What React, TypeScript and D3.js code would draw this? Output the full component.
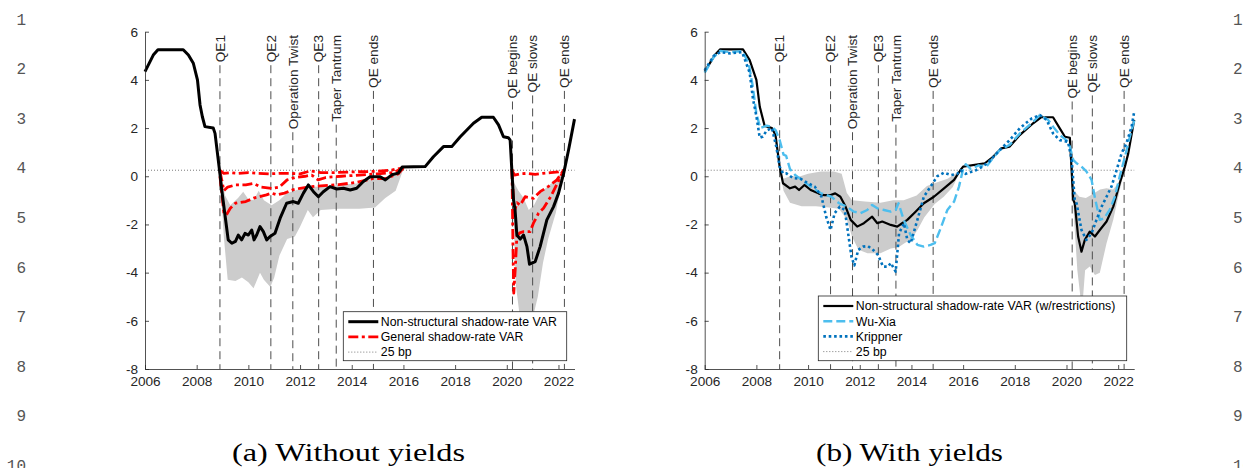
import React, { useEffect, useRef } from 'react';
import * as d3 from 'd3';

type Pt = [number, number];

const xTicks = [2006, 2008, 2010, 2012, 2014, 2016, 2018, 2020, 2022];
const yTicks = [-8, -6, -4, -2, 0, 2, 4, 6];
const eventLabels = ['QE1', 'QE2', 'Operation Twist', 'QE3', 'Taper Tantrum', 'QE ends', 'QE begins', 'QE slows', 'QE ends'];
const eventYears = [2008.9, 2010.87, 2011.72, 2012.72, 2013.4, 2014.84, 2020.22, 2021.0, 2022.23];
const floorRate = 0.25;
const lineNumbers = ['1', '2', '3', '4', '5', '6', '7', '8', '9', '10'];
const captions = ['(a) Without yields', '(b) With yields'];

// (a) non-structural shadow-rate VAR
const nsVarA: Pt[] = [
  [2006.0, 4.34], [2006.32, 5.03], [2006.5, 5.25], [2007.48, 5.25], [2007.68, 5.03], [2007.87, 4.69],
  [2008.03, 4.0], [2008.13, 2.96], [2008.22, 2.47], [2008.32, 2.06], [2008.64, 2.0], [2008.71, 1.78],
  [2008.9, 0.1], [2008.97, -0.57], [2009.22, -2.64], [2009.36, -2.78], [2009.5, -2.7], [2009.61, -2.44],
  [2009.74, -2.64], [2009.87, -2.37], [2010.0, -2.44], [2010.13, -2.23], [2010.22, -2.64], [2010.32, -2.44],
  [2010.45, -2.09], [2010.58, -2.3], [2010.71, -2.64], [2010.84, -2.5], [2011.03, -2.37], [2011.23, -1.74],
  [2011.48, -1.12], [2011.74, -1.05], [2011.93, -1.12], [2012.13, -0.7], [2012.32, -0.36], [2012.52, -0.64],
  [2012.71, -0.85], [2012.9, -0.64], [2013.16, -0.43], [2013.42, -0.53], [2013.68, -0.5], [2013.94, -0.57],
  [2014.19, -0.5], [2014.45, -0.22], [2014.71, -0.02], [2015.1, -0.02], [2015.3, -0.15], [2015.55, 0.06],
  [2015.8, 0.13], [2015.95, 0.38], [2016.84, 0.4], [2017.16, 0.81], [2017.55, 1.23], [2017.87, 1.23],
  [2018.2, 1.64], [2018.71, 2.2], [2019.03, 2.45], [2019.48, 2.45], [2019.68, 2.13], [2019.87, 1.64],
  [2020.06, 1.6], [2020.13, 1.5], [2020.26, -0.98], [2020.32, -1.4], [2020.39, -2.44], [2020.52, -2.61],
  [2020.65, -2.44], [2020.78, -2.92], [2020.88, -3.65], [2021.1, -3.54], [2021.29, -2.92], [2021.55, -1.81],
  [2021.81, -1.26], [2022.0, -0.71], [2022.2, 0.12], [2022.39, 1.09], [2022.62, 2.37],
];

// (a) general shadow-rate VAR: median and bands
const genUpA1: Pt[] = [
  [2008.9, 0.25], [2009.05, 0.12], [2009.3, 0.15], [2009.6, 0.12], [2010.0, 0.15], [2010.4, 0.12], [2010.8, 0.1],
  [2011.2, 0.12], [2011.6, 0.12], [2012.0, 0.1], [2012.4, 0.22], [2012.8, 0.15], [2013.3, 0.15], [2014.0, 0.18],
  [2014.8, 0.2], [2015.5, 0.25], [2016.0, 0.35],
];
const genMedA1: Pt[] = [
  [2008.9, 0.2], [2008.98, -0.2], [2009.05, -0.6], [2009.2, -0.45], [2009.5, -0.36], [2009.9, -0.36],
  [2010.2, -0.3], [2010.5, -0.45], [2010.9, -0.5], [2011.2, -0.45], [2011.5, -0.15], [2011.8, -0.05],
  [2012.2, 0.0], [2012.45, 0.05], [2012.7, -0.15], [2013.0, -0.05], [2013.6, 0.0], [2014.3, 0.05],
  [2015.0, 0.1], [2015.6, 0.15], [2016.0, 0.35],
];
const genLoA1: Pt[] = [
  [2008.9, 0.0], [2009.05, -1.5], [2009.15, -1.6], [2009.3, -1.33], [2009.5, -1.12], [2009.9, -1.05],
  [2010.2, -0.91], [2010.7, -0.77], [2010.9, -0.7], [2011.1, -0.77], [2011.4, -0.7], [2011.7, -0.57],
  [2012.0, -0.5], [2012.4, -0.43], [2012.8, -0.4], [2013.5, -0.35], [2014.2, -0.25], [2014.8, -0.1],
  [2015.3, -0.1], [2015.8, 0.1], [2016.0, 0.35],
];
const genUpA2: Pt[] = [
  [2020.2, 0.25], [2020.3, 0.05], [2020.5, 0.1], [2020.8, 0.12], [2021.1, 0.08], [2021.4, 0.12], [2021.7, 0.15],
  [2022.0, 0.18], [2022.2, 0.25],
];
const genMedA2: Pt[] = [
  [2020.2, 0.3], [2020.28, -1.5], [2020.4, -1.1], [2020.52, -1.2], [2020.71, -0.85], [2021.03, -0.92],
  [2021.29, -0.64], [2021.6, -0.43], [2021.94, -0.15], [2022.2, 0.25],
];
const genLoA2: Pt[] = [
  [2020.2, 0.3], [2020.24, -3.0], [2020.27, -4.85], [2020.33, -3.8], [2020.39, -2.5], [2020.5, -2.35],
  [2020.65, -2.3], [2020.9, -2.3], [2021.03, -1.95], [2021.23, -1.53], [2021.42, -1.33], [2021.7, -0.85],
  [2022.0, -0.2], [2022.2, 0.25],
];

// (a) gray credible band
const bandUpA1: Pt[] = [
  [2008.9, 0.25], [2009.1, -0.8], [2009.3, -1.2], [2009.6, -0.9], [2009.8, -0.64], [2010.0, -0.95], [2010.2, -1.0],
  [2010.4, -0.6], [2010.6, -1.0], [2010.9, -1.2], [2011.2, -1.0], [2011.5, -0.7], [2011.8, -0.6], [2012.3, -0.4],
  [2012.8, -0.45], [2013.5, -0.35], [2014.2, -0.3], [2014.8, -0.1], [2015.3, -0.12], [2016.0, 0.35],
];
const bandLoA1: Pt[] = [
  [2008.9, 0.2], [2009.05, -2.5], [2009.2, -4.3], [2009.5, -4.35], [2009.75, -4.2], [2010.0, -4.4], [2010.2, -4.65],
  [2010.45, -4.0], [2010.6, -4.3], [2010.85, -4.6], [2011.0, -4.2], [2011.2, -3.3], [2011.5, -2.6], [2011.8, -2.5],
  [2012.0, -2.1], [2012.3, -1.4], [2012.5, -1.7], [2012.8, -1.4], [2013.5, -1.35], [2014.3, -1.35], [2014.9, -1.3],
  [2015.3, -0.9], [2015.7, -0.6], [2016.0, 0.3],
];
const bandUpA2: Pt[] = [
  [2020.2, 0.3], [2020.3, -0.3], [2020.45, -0.6], [2020.65, -0.9], [2020.85, -1.4], [2021.05, -1.2], [2021.3, -0.7],
  [2021.6, -0.4], [2021.9, -0.15], [2022.2, 0.25],
];
const bandLoA2: Pt[] = [
  [2020.2, 0.3], [2020.27, -2.0], [2020.35, -4.5], [2020.5, -5.8], [2020.8, -6.1], [2021.0, -5.9], [2021.2, -5.0],
  [2021.4, -3.6], [2021.6, -2.6], [2021.9, -1.5], [2022.2, 0.25],
];

// (b) non-structural shadow-rate VAR with restrictions
const nsVarB: Pt[] = [
  [2006.0, 4.34], [2006.39, 5.03], [2006.6, 5.27], [2007.48, 5.27], [2007.74, 4.82], [2008.0, 4.0], [2008.13, 2.89],
  [2008.32, 2.09], [2008.6, 2.0], [2008.74, 1.71], [2008.9, 0.4], [2009.03, -0.29], [2009.3, -0.5], [2009.5, -0.43],
  [2009.65, -0.57], [2009.86, -0.36], [2010.1, -0.57], [2010.4, -0.71], [2010.6, -0.78], [2010.87, -0.78],
  [2011.05, -0.71], [2011.25, -0.85], [2011.45, -1.26], [2011.65, -1.81], [2011.9, -2.09], [2012.16, -1.95],
  [2012.48, -1.68], [2012.68, -1.95], [2012.87, -1.88], [2013.2, -2.02], [2013.45, -2.09], [2013.64, -1.95],
  [2013.84, -1.81], [2014.16, -1.47], [2014.48, -1.12], [2014.87, -0.85], [2015.26, -0.5], [2015.65, -0.15],
  [2015.9, 0.26], [2016.0, 0.4], [2016.84, 0.54], [2017.16, 0.81], [2017.48, 1.16], [2017.8, 1.23],
  [2018.19, 1.71], [2018.71, 2.2], [2019.03, 2.45], [2019.48, 2.45], [2019.74, 1.99], [2019.94, 1.64],
  [2020.13, 1.6], [2020.26, -0.98], [2020.32, -1.12], [2020.45, -2.5], [2020.58, -3.13], [2020.71, -2.64],
  [2020.9, -2.3], [2021.1, -2.5], [2021.29, -2.23], [2021.55, -1.88], [2021.81, -1.26], [2022.06, -0.29],
  [2022.26, 0.4], [2022.39, 0.95], [2022.62, 2.34],
];
const wuXia: Pt[] = [
  [2006.0, 4.3], [2006.35, 4.95], [2006.6, 5.2], [2007.0, 5.15], [2007.45, 5.2], [2007.7, 4.7], [2007.85, 3.8],
  [2008.0, 2.6], [2008.15, 2.0], [2008.4, 2.1], [2008.6, 2.05], [2008.75, 1.9], [2008.9, 1.5], [2009.05, 0.9],
  [2009.15, 0.85], [2009.3, 0.3], [2009.5, 0.05], [2009.75, -0.15], [2010.1, -0.43], [2010.5, -0.71],
  [2010.9, -0.85], [2011.2, -1.12], [2011.5, -1.26], [2011.77, -1.47], [2012.03, -1.53], [2012.29, -1.4],
  [2012.48, -1.19], [2012.68, -1.33], [2012.94, -1.4], [2013.2, -1.47], [2013.39, -1.4], [2013.5, -1.12],
  [2013.7, -1.81], [2013.97, -2.44], [2014.23, -2.85], [2014.48, -2.92], [2014.74, -2.85], [2014.9, -2.78],
  [2015.13, -2.16], [2015.39, -1.4], [2015.65, -1.05], [2015.84, -0.43], [2016.0, 0.3], [2016.1, 0.5],
  [2016.3, 0.3], [2016.6, 0.45], [2016.9, 0.4], [2017.1, 0.68], [2017.42, 1.09], [2017.8, 1.3], [2018.2, 1.78],
  [2018.65, 2.2], [2018.97, 2.54], [2019.29, 2.34], [2019.48, 2.06], [2019.74, 1.71], [2020.0, 1.5],
  [2020.13, 1.23], [2020.26, 0.68], [2020.39, 0.54], [2020.58, 0.4], [2020.77, 0.2], [2020.97, -0.15],
  [2021.1, -0.9], [2021.29, -1.81], [2021.45, -1.75], [2021.67, -1.4], [2021.87, -0.85], [2022.06, 0.0],
  [2022.26, 0.8], [2022.45, 1.64], [2022.63, 2.34],
];
const krippner: Pt[] = [
  [2006.0, 4.4], [2006.35, 5.0], [2006.6, 5.15], [2007.0, 5.1], [2007.45, 5.15], [2007.74, 4.3], [2007.87, 3.2],
  [2008.0, 2.5], [2008.13, 1.6], [2008.25, 1.65], [2008.4, 1.9], [2008.6, 2.0], [2008.77, 1.23], [2008.9, 0.4],
  [2009.03, 0.12], [2009.16, 0.12], [2009.42, -0.08], [2009.7, -0.1], [2010.0, -0.29], [2010.26, -0.43],
  [2010.52, -0.85], [2010.7, -1.68], [2010.87, -2.23], [2011.03, -1.53], [2011.23, -1.26], [2011.42, -1.4],
  [2011.55, -2.37], [2011.68, -3.34], [2011.79, -3.7], [2011.94, -3.06], [2012.13, -2.92], [2012.32, -2.9],
  [2012.52, -3.06], [2012.71, -3.27], [2012.9, -3.75], [2013.1, -3.75], [2013.2, -3.6], [2013.39, -3.96],
  [2013.52, -2.37], [2013.71, -1.95], [2013.84, -2.64], [2013.97, -2.78], [2014.23, -1.81], [2014.48, -0.85],
  [2014.74, -0.43], [2015.0, 0.0], [2015.26, 0.15], [2015.52, 0.05], [2015.77, 0.1], [2015.9, 0.25],
  [2016.1, 0.1], [2016.5, 0.25], [2016.75, 0.4], [2017.0, 0.6], [2017.42, 1.09], [2017.8, 1.5], [2018.19, 1.99],
  [2018.65, 2.4], [2018.97, 2.54], [2019.23, 2.34], [2019.48, 1.78], [2019.74, 1.5], [2020.06, 1.43],
  [2020.2, 0.68], [2020.32, -0.98], [2020.39, -1.12], [2020.58, -2.23], [2020.77, -2.64], [2020.97, -2.37],
  [2021.16, -1.81], [2021.36, -1.26], [2021.55, -0.85], [2021.74, -0.43], [2021.94, 0.26], [2022.13, 0.95],
  [2022.32, 1.37], [2022.52, 2.06], [2022.62, 2.68],
];

// (b) gray credible band
const bandUpB1: Pt[] = [
  [2008.9, 0.3], [2009.05, -0.1], [2009.3, 0.0], [2009.7, 0.0], [2010.0, 0.1], [2010.5, 0.2], [2011.0, 0.2],
  [2011.3, 0.1], [2011.5, -0.7], [2011.7, -1.0], [2012.2, -1.05], [2012.8, -1.1], [2013.3, -1.0], [2013.7, -1.0],
  [2014.2, -0.8], [2014.6, -0.4], [2015.0, -0.25], [2015.4, -0.1], [2015.9, 0.25],
];
const bandLoB1: Pt[] = [
  [2008.9, 0.3], [2009.05, -0.6], [2009.3, -1.1], [2009.75, -1.25], [2010.3, -1.25], [2010.8, -1.3], [2011.2, -1.35],
  [2011.5, -1.8], [2011.7, -2.5], [2011.95, -3.05], [2012.3, -3.2], [2012.8, -3.2], [2013.2, -3.0], [2013.5, -2.95],
  [2013.7, -2.8], [2014.0, -2.6], [2014.25, -2.2], [2014.5, -1.7], [2014.9, -1.15], [2015.25, -0.85],
  [2015.6, -0.45], [2015.9, 0.25],
];
const bandUpB2: Pt[] = [
  [2020.2, 0.3], [2020.3, -0.6], [2020.5, -0.85], [2020.75, -0.9], [2021.0, -0.75], [2021.3, -0.55],
  [2021.55, -0.5], [2021.8, -0.55], [2022.0, -0.3], [2022.2, 0.3],
];
const bandLoB2: Pt[] = [
  [2020.2, 0.3], [2020.3, -1.9], [2020.42, -3.9], [2020.55, -5.1], [2020.62, -5.3], [2020.72, -3.9],
  [2020.9, -3.75], [2021.1, -4.1], [2021.29, -4.0], [2021.55, -2.78], [2021.81, -1.81], [2022.06, -0.57],
  [2022.26, 0.3],
];

const legendA = ['Non-structural shadow-rate VAR', 'General shadow-rate VAR', '25 bp'];
const legendB = ['Non-structural shadow-rate VAR (w/restrictions)', 'Wu-Xia', 'Krippner', '25 bp'];

const AX = '#262626';
const FONT = '"Liberation Sans", Arial, Helvetica, sans-serif';

type Style = { stroke: string; width: number; dash?: string };
const sBlackA: Style = { stroke: '#000', width: 3 };
const sBlackB: Style = { stroke: '#000', width: 2.2 };
const sRed: Style = { stroke: '#ff0000', width: 2.8, dash: '10,3.5,3,3.5' };
const sWu: Style = { stroke: '#4dbeee', width: 2.4, dash: '9,4' };
const sKr: Style = { stroke: '#0072bd', width: 2.6, dash: '2.6,2.8' };
const sFloor: Style = { stroke: '#7a7a7a', width: 1, dash: '1,2' };

type Panel = {
  left: number;
  bands: [Pt[], Pt[]][];
  series: [Pt[], Style][];
  legend: { labels: string[]; styles: Style[]; x0: number; y0: number; w: number; h: number };
};

const drawPanel = (svg: any, p: Panel) => {
  const x = d3.scaleLinear().domain([2006, 2022.62]).range([p.left, p.left + 429.5]);
  const y = d3.scaleLinear().domain([-8, 6]).range([369, 31.7]);
  const g = svg.append('g');
  const line = d3.line<Pt>().x(d => x(d[0])).y(d => y(d[1]));

  // shaded bands
  p.bands.forEach(([up, lo]) => {
    g.append('path')
      .attr('d', line(up.concat(lo.slice().reverse())) + 'Z')
      .attr('fill', '#cccccc');
  });

  // event markers
  eventYears.forEach((yr, i) => {
    const t = g.append('text')
      .attr('transform', `translate(${x(yr)},35) rotate(-90)`)
      .attr('text-anchor', 'end')
      .attr('dy', '0.35em')
      .attr('font-family', FONT)
      .attr('font-size', 13.6)
      .attr('fill', AX)
      .text(eventLabels[i]);
    const len = (t.node() as SVGTextElement).getComputedTextLength();
    g.append('line')
      .attr('x1', x(yr)).attr('x2', x(yr))
      .attr('y1', 35 + len + 3).attr('y2', y(-8))
      .attr('stroke', '#4d4d4d')
      .attr('stroke-width', 1)
      .attr('stroke-dasharray', '8,5');
  });

  // 25 bp
  g.append('line')
    .attr('x1', x(2006)).attr('x2', x(2022.62))
    .attr('y1', y(floorRate)).attr('y2', y(floorRate))
    .attr('stroke', sFloor.stroke).attr('stroke-width', 1).attr('stroke-dasharray', sFloor.dash);

  p.series.forEach(([data, s]) => {
    g.append('path')
      .attr('d', line(data))
      .attr('fill', 'none')
      .attr('stroke', s.stroke)
      .attr('stroke-width', s.width)
      .attr('stroke-dasharray', s.dash || null)
      .attr('stroke-linejoin', 'round');
  });

  // axes
  const fmt = (d: any) => String(d);
  const yAxis = g.append('g')
    .attr('transform', `translate(${p.left},0)`)
    .call(d3.axisLeft(y).tickValues(yTicks).tickSizeInner(-4).tickSizeOuter(0).tickPadding(7).tickFormat(fmt));
  const xAxis = g.append('g')
    .attr('transform', `translate(0,${y(-8)})`)
    .call(d3.axisBottom(x).tickValues(xTicks).tickSizeInner(-4).tickSizeOuter(0).tickPadding(7).tickFormat(fmt));
  [xAxis, yAxis].forEach(a => {
    a.selectAll('path,line').attr('stroke', AX).attr('stroke-width', 0.8);
    a.selectAll('text').attr('fill', AX).attr('font-size', 13.6).attr('font-family', FONT);
  });

  // legend
  const L = p.legend;
  const lg = g.append('g');
  lg.append('rect')
    .attr('x', L.x0).attr('y', L.y0).attr('width', L.w).attr('height', L.h)
    .attr('fill', '#fff').attr('stroke', AX).attr('stroke-width', 0.8);
  L.labels.forEach((lab, i) => {
    const yy = L.y0 + 10 + i * 15.2;
    const s = L.styles[i];
    lg.append('line')
      .attr('x1', L.x0 + 5).attr('x2', L.x0 + 35)
      .attr('y1', yy).attr('y2', yy)
      .attr('stroke', s.stroke).attr('stroke-width', s.width)
      .attr('stroke-dasharray', s.dash || null);
    lg.append('text')
      .attr('x', L.x0 + 37.5).attr('y', yy).attr('dy', '0.35em')
      .attr('font-family', FONT).attr('font-size', 12.3).attr('fill', '#000')
      .text(lab);
  });
};

export default function App() {
  const ref = useRef<SVGSVGElement>(null);

  useEffect(() => {
    const svg = d3.select(ref.current);
    svg.selectAll('*').remove();

    drawPanel(svg, {
      left: 145,
      bands: [[bandUpA1, bandLoA1], [bandUpA2, bandLoA2]],
      series: [
        [genUpA1, sRed], [genMedA1, sRed], [genLoA1, sRed],
        [genUpA2, sRed], [genMedA2, sRed], [genLoA2, sRed],
        [nsVarA, sBlackA],
      ],
      legend: { labels: legendA, styles: [sBlackA, sRed, sFloor], x0: 343.3, y0: 311.7, w: 223.4, h: 49 },
    });

    drawPanel(svg, {
      left: 704.7,
      bands: [[bandUpB1, bandLoB1], [bandUpB2, bandLoB2]],
      series: [[nsVarB, sBlackB], [wuXia, sWu], [krippner, sKr]],
      legend: { labels: legendB, styles: [sBlackB, sWu, sKr, sFloor], x0: 818.3, y0: 296, w: 308.4, h: 64.7 },
    });

    // captions
    const capX = [348.5, 909.5];
    const capW = [233, 187];
    captions.forEach((c, i) => {
      svg.append('text')
        .attr('x', capX[i]).attr('y', 461)
        .attr('text-anchor', 'middle')
        .attr('font-family', '"Liberation Serif", "Times New Roman", serif')
        .attr('font-size', 25)
        .attr('textLength', capW[i])
        .attr('lengthAdjust', 'spacingAndGlyphs')
        .attr('fill', '#000')
        .text(c);
    });

    // line numbers in both margins
    lineNumbers.forEach((n, i) => {
      const yy = 19 + i * 49.6;
      const mono = '"Liberation Mono", "DejaVu Sans Mono", monospace';
      svg.append('text')
        .attr('x', 26).attr('y', yy).attr('dy', '0.35em')
        .attr('text-anchor', 'end')
        .attr('font-family', mono).attr('font-size', 16).attr('fill', '#555')
        .text(n);
      svg.append('text')
        .attr('x', 1233).attr('y', yy).attr('dy', '0.35em')
        .attr('text-anchor', 'start')
        .attr('font-family', mono).attr('font-size', 16).attr('fill', '#555')
        .text(n);
    });
  }, []);

  return (
    <svg
      ref={ref}
      width={1243}
      height={468}
      style={{ position: 'absolute', left: 0, top: 0, background: '#fff' }}
    />
  );
}
